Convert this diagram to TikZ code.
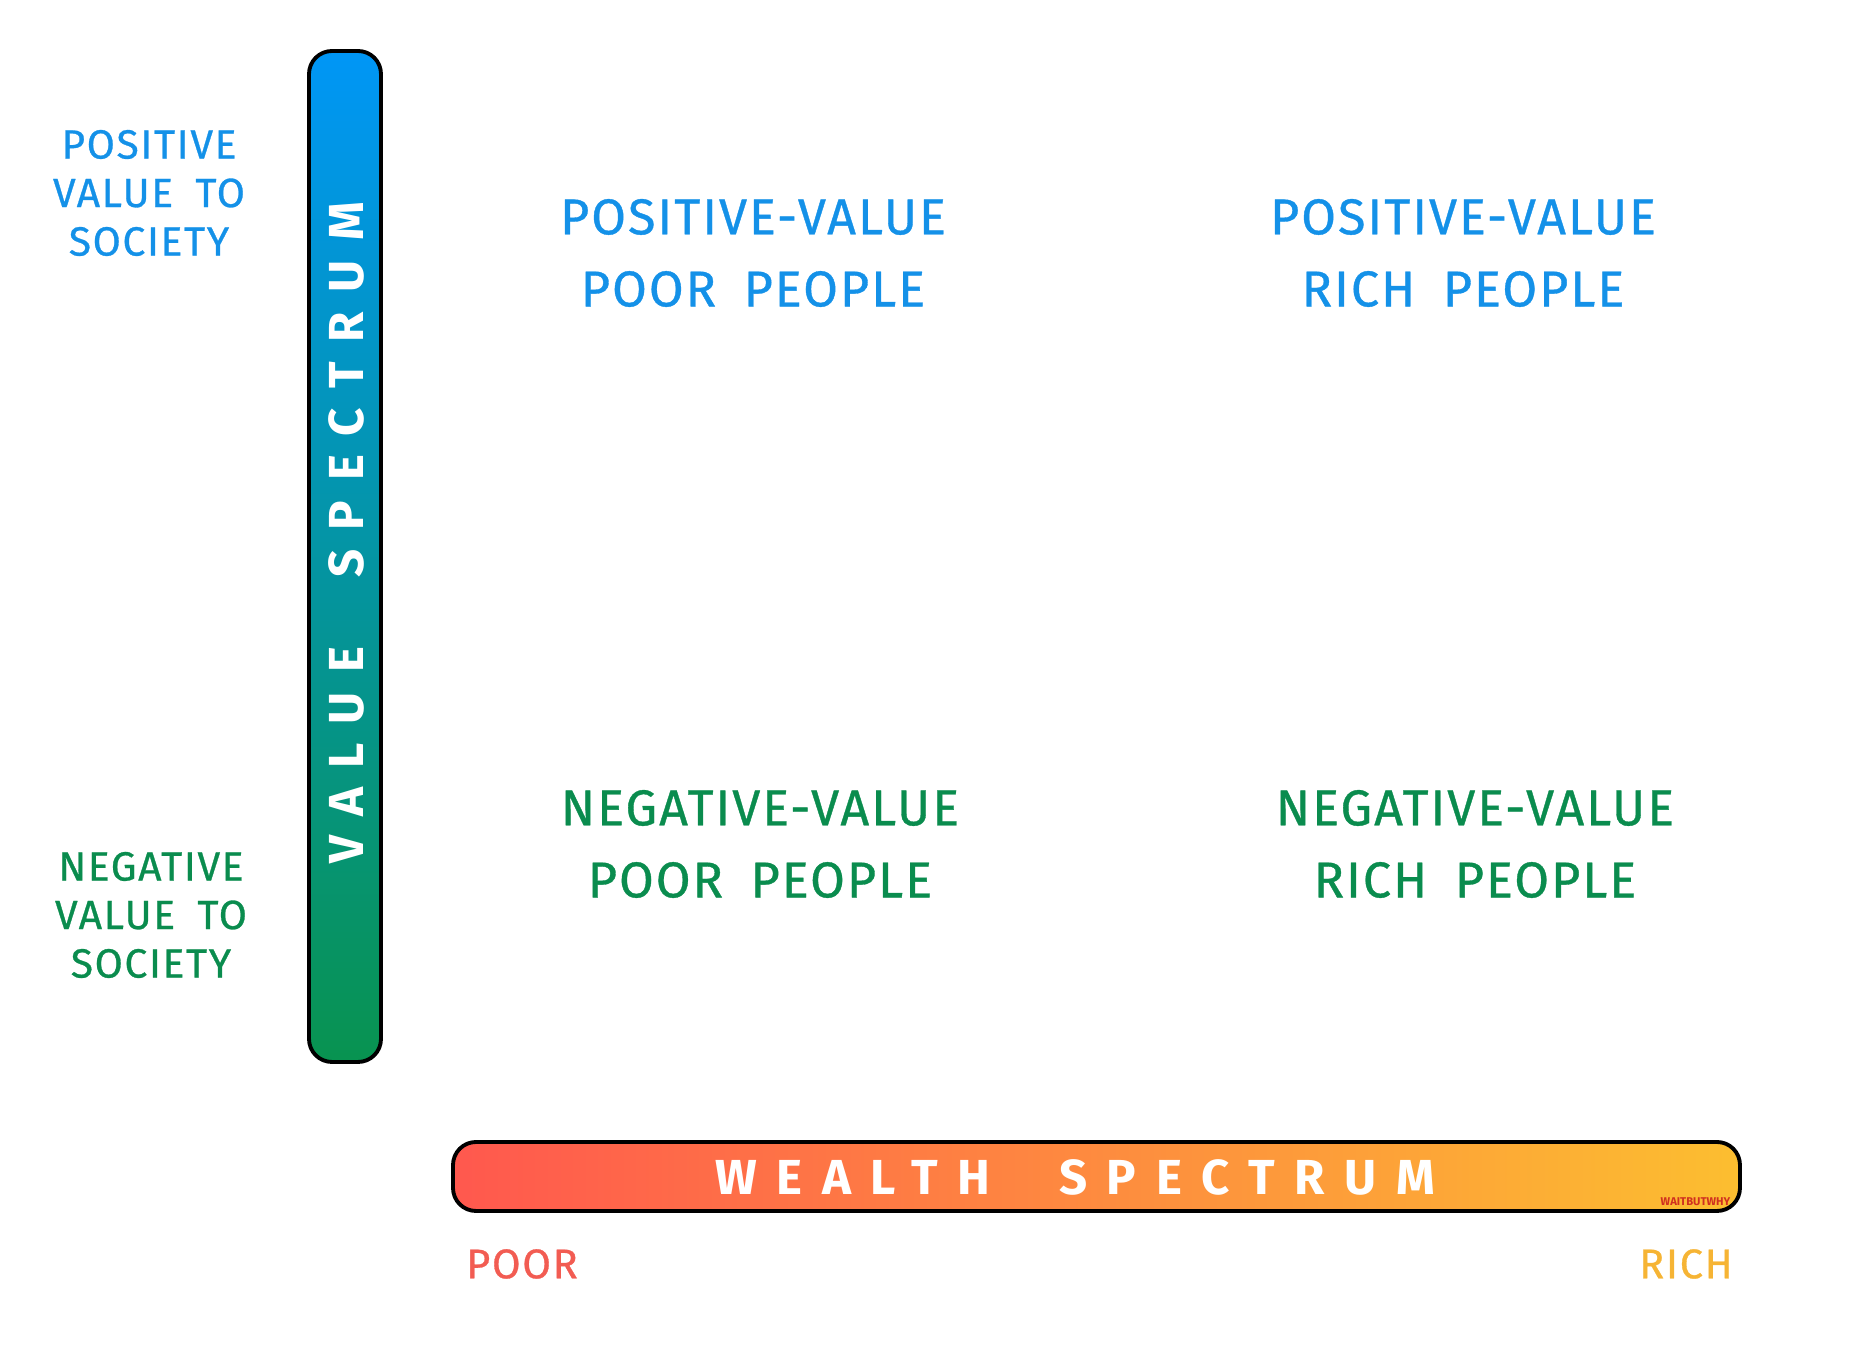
\documentclass[tikz,border=0pt]{standalone}
\usepackage{fontspec}
\setmainfont{Fira Sans}
\newfontfamily\spreadfont[LetterSpace=40,WordSpace=2.2]{Fira Sans}
\newfontfamily\quadfont[LetterSpace=4,WordSpace=1.8,FakeBold=0.7]{Fira Sans}
\usetikzlibrary{positioning}

\definecolor{valueblue}{RGB}{20,145,232}
\definecolor{valuegreen}{RGB}{10,140,78}
\definecolor{bartop}{RGB}{0,150,246}
\definecolor{barbottom}{RGB}{8,147,80}
\definecolor{poorred}{RGB}{255,88,78}
\definecolor{richgold}{RGB}{252,190,48}
\definecolor{poortext}{RGB}{242,92,82}
\definecolor{richtext}{RGB}{246,180,52}
\definecolor{markred}{RGB}{208,48,32}

\begin{document}
\begin{tikzpicture}[
  x=0.1mm,
  y=-0.1mm,
  bar/.style={draw=black,line width=1.1pt,rounded corners=2.3mm},
  barlabel/.style={text=white,font=\spreadfont\fontsize{14}{16}\selectfont\bfseries},
  sidelabel/.style={align=center,font=\quadfont\fontsize{11.6}{13.8}\selectfont},
  quadlabel/.style={align=center,font=\quadfont\fontsize{14.3}{20.5}\selectfont},
  endlabel/.style={font=\quadfont\fontsize{11.8}{14}\selectfont}
]
\useasboundingbox (0,0) rectangle (1850,1348);

% =====================================================================
% Value axis (vertical bar)
% =====================================================================
\path[bar,top color=bartop,bottom color=barbottom] (309,51) rectangle (381,1062);
\node[barlabel,rotate=90] (valuespec) at (346,533) {VALUE SPECTRUM};

\node[sidelabel,text=valueblue] (posside) at (149,193)
  {POSITIVE\\VALUE TO\\SOCIETY};
\node[sidelabel,text=valuegreen] (negside) at (151,915)
  {NEGATIVE\\VALUE TO\\SOCIETY};

% =====================================================================
% Wealth axis (horizontal bar)
% =====================================================================
\path[bar,left color=poorred,right color=richgold] (453,1142) rectangle (1740,1211);
\node[barlabel] (wealthspec) at (1075,1177) {WEALTH SPECTRUM};
\node[text=markred,font=\fontsize{3.2}{4}\selectfont\bfseries,anchor=south east,
      inner sep=0pt] (mark) at (1731,1206) {WAITBUTWHY};

\node[endlabel,text=poortext] (poor) at (522,1264) {POOR};
\node[endlabel,text=richtext] (rich) at (1686,1264) {RICH};

% =====================================================================
% Quadrants
% =====================================================================
\node[quadlabel,text=valueblue] (pospoor) at (753,253)
  {POSITIVE-VALUE\\POOR PEOPLE};
\node[quadlabel,text=valueblue] (posrich) at (1463,253)
  {POSITIVE-VALUE\\RICH PEOPLE};
\node[quadlabel,text=valuegreen] (negpoor) at (760,844)
  {NEGATIVE-VALUE\\POOR PEOPLE};
\node[quadlabel,text=valuegreen] (negrich) at (1475,844)
  {NEGATIVE-VALUE\\RICH PEOPLE};

\end{tikzpicture}
\end{document}
